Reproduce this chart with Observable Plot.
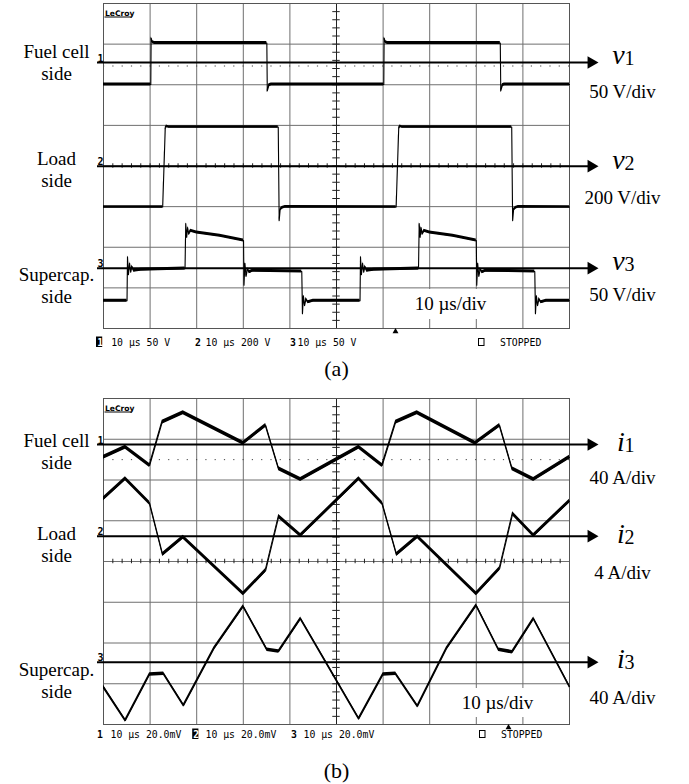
<!DOCTYPE html>
<html>
<head>
<meta charset="utf-8">
<script src="https://cdn.jsdelivr.net/npm/d3@7"></script>
<script src="https://cdn.jsdelivr.net/npm/@observablehq/plot@0.6"></script>
<style>
  html, body { margin: 0; padding: 0; background: #fff; }
  #figure { width: 689px; }
  #figure svg { display: block; }
</style>
</head>
<body>
<div id="figure"></div>
<script>
// ---- recorded waveforms: [time (µs), value] ----
// (a) voltages (V)
const v1Trace = [
  [0, -27], [10.15, -27], [10.22, 30], [10.5, 25], [11, 24], [35.05, 24], [35.15, -35], [35.5, -28], [36, -27],
  [60.15, -27], [60.22, 30], [60.5, 25], [61, 24], [85.15, 24], [85.25, -35], [85.6, -28], [86, -27], [100, -27]
];
const v2Trace = [
  [0, -201], [12.7, -201], [13.25, 185], [13.5, 197], [14, 193], [37.5, 193], [37.7, -268], [37.9, -215], [38.3, -205], [39, -200],
  [62.8, -201], [63.35, 185], [63.6, 197], [64.1, 193], [87.6, 193], [87.8, -268], [88, -215], [88.4, -205], [89, -200], [100, -201]
];
const v3Trace = [
  [0, -40], [5.05, -40], [5.15, 14], [5.35, -8], [5.6, 6], [5.85, -5], [6.1, 2], [6.5, -3], [8, -2], [17.5, -0.5],
  [17.65, 55], [17.85, 38], [18.05, 50], [18.3, 42], [18.7, 46], [20, 44], [25, 40], [30.05, 34],
  [30.15, -21], [30.35, 6], [30.6, -10], [30.9, -1], [31.3, -5], [32, -3], [42.55, -4],
  [42.7, -56], [42.9, -34], [43.15, -46], [43.45, -38], [43.9, -42], [45, -40], [55.05, -40],
  [55.15, 14], [55.35, -8], [55.6, 6], [55.85, -5], [56.1, 2], [56.5, -3], [58, -2], [67.6, -0.5],
  [67.75, 55], [67.95, 38], [68.15, 50], [68.4, 42], [68.8, 46], [70, 44], [75, 40], [80.0, 34],
  [80.1, -21], [80.3, 6], [80.55, -10], [80.85, -1], [81.25, -5], [82, -3], [92.55, -4],
  [92.7, -56], [92.9, -34], [93.15, -46], [93.45, -38], [93.9, -42], [95, -40], [100, -40]
];
// (b) currents (A)
const i1Trace = [
  [0, -12.5], [4.7, -2.6], [9.9, -20.6], [12.6, 21.9], [17.1, 31.1], [30.0, 1.3], [34.8, 18.7], [37.6, -23.9], [42.3, -34.4],
  [54.8, -2.6], [59.8, -20.6], [62.7, 21.9], [67.3, 31.1], [79.8, 1.3], [85.0, 18.7], [87.7, -23.9], [92.3, -34.4], [100, -12.5]
];
const i2Trace = [
  [0, 3.67], [4.7, 5.63], [9.9, 3.24], [12.7, -1.8], [17.1, -0.1], [30.0, -5.65], [34.8, -3.37], [37.6, 1.93], [42.3, 0.07],
  [54.8, 5.63], [59.8, 3.24], [62.9, -1.8], [67.4, -0.05], [80.0, -5.65], [85.0, -3.2], [87.8, 2.2], [92.3, 0.07], [100, 3.44]
];
const i3Trace = [
  [0, -24.5], [4.7, -57.2], [9.9, -12.1], [12.9, -11.4], [17.2, -42.5], [23.7, 13.2], [30.0, 54.7], [35.1, 12.2], [37.6, 10.5], [42.3, 42.6],
  [54.8, -55.5], [60.0, -12.1], [62.7, -11.4], [67.4, -43.2], [73.6, 13.2], [80.0, 55.7], [84.8, 12.2], [87.7, 9.8], [92.3, 42.6], [100, -23.9]
];

// ---- text ----
const sideLabels = ["Fuel cell\nside", "Load\nside", "Supercap.\nside"];
const channelNumbers = ["1", "2", "3"];
const voltScales = ["50 V/div", "200 V/div", "50 V/div"];
const currentScales = ["40 A/div", "4 A/div", "40 A/div"];
const timeBase = "10 µs/div";
const statusA = ["10 µs 50 V", "10 µs 200 V", "10 µs 50 V"];
const statusB = ["10 µs 20.0mV", "10 µs 20.0mV", "10 µs 20.0mV"];
const panelNames = ["(a)", "(b)"];
const brand = "LeCroy";
const stoppedText = "STOPPED";

// graticule: 10 × 8 divisions, 10 µs per division
const timeTicks = d3.range(0, 101, 10);
const divTicks = d3.range(-4, 5);
const fineTime = d3.range(0, 51).map(k => k * 2);
const fineDiv = d3.range(-20, 21).map(k => k / 5);

const WIDTH = 689, HEIGHT = 392;
const GRID_L = 103, GRID_R = 569;
const T = px => (px - GRID_L) * 100 / (GRID_R - GRID_L);   // page column -> µs

const serif = "'Liberation Serif','Times New Roman',Times,serif";
const mono = "'DejaVu Sans Mono','Liberation Mono',monospace";
const sans = "'DejaVu Sans','Liberation Sans',sans-serif";

function scope(p) {
  const {origin, top, bottom} = p;
  const pxPerDiv = (bottom - top) / 8;
  const D = py => 4 - (py - top) / pxPerDiv;               // page row -> divisions
  const marks = [];

  // graticule
  marks.push(Plot.ruleX(timeTicks, {stroke: "#6f6f6f", strokeWidth: 1}));
  marks.push(Plot.ruleY(divTicks, {stroke: "#6f6f6f", strokeWidth: 1}));
  marks.push(Plot.ruleY([p.dotted], {stroke: "#444", strokeWidth: 1, strokeDasharray: "1.2,8.1"}));
  marks.push(Plot.ruleX([50], {stroke: "#222", strokeWidth: 1}));
  marks.push(Plot.ruleY(fineDiv, {x1: 49.2, x2: 50.8, stroke: "#222", strokeWidth: 1}));
  marks.push(Plot.ruleX(fineTime, {y1: -0.055, y2: 0.055, stroke: "#222", strokeWidth: 1}));
  marks.push(Plot.frame({stroke: "#555", strokeWidth: 1}));

  // label box for the time base
  marks.push(Plot.rect([0], {x1: T(p.boxX[0]), x2: T(p.boxX[1]), y1: D(p.boxY[0]), y2: D(p.boxY[1]), fill: "white"}));

  p.channels.forEach((c, i) => {
    const base = D(c.marker);
    const y = d => base + d[1] / c.perDiv;
    const hb = c.band / pxPerDiv;
    // ground marker with arrow
    marks.push(Plot.ruleY([base], {x1: T(97), x2: T(591), stroke: "black", strokeWidth: 2}));
    marks.push(Plot.dot([0], {x: T(590.7), y: base, symbol: "triangle", r: 4.7, rotate: 90, fill: "black", stroke: "none"}));
    // waveform: noise band plus thin core line
    marks.push(Plot.areaY(c.data, {x: d => d[0], y1: d => y(d) - hb, y2: d => y(d) + hb, fill: "black"}));
    marks.push(Plot.line(c.data, {x: d => d[0], y, stroke: "black", strokeWidth: 1.1}));
    // channel number on the left edge
    marks.push(Plot.text([channelNumbers[i]], {text: d => d, x: T(100), y: base, dy: -1, lineAnchor: "bottom",
      fontFamily: mono, fontWeight: "bold", fontSize: 10}));
    // side name
    marks.push(Plot.text([sideLabels[i]], {text: d => d, x: T(56), y: D(c.sideY), lineAnchor: "middle",
      fontFamily: serif, fontSize: 19, lineHeight: 1.16}));
    // quantity symbol with subscript
    marks.push(Plot.text([p.symbol], {text: d => d, x: T(c.symX), y: base, dy: c.symDy, lineAnchor: "bottom",
      fontFamily: serif, fontStyle: "italic", fontSize: 28}));
    marks.push(Plot.text([channelNumbers[i]], {text: d => d, x: T(629), y: base, dy: c.symDy + 1, lineAnchor: "bottom",
      fontFamily: serif, fontSize: 20}));
    // scale
    marks.push(Plot.text([p.scales[i]], {text: d => d, x: T(622), y: D(c.scaleY), lineAnchor: "middle",
      fontFamily: serif, fontSize: 19}));
  });

  // time base
  marks.push(Plot.text([timeBase], {text: d => d, x: T(p.timeX), y: D(p.timeY), lineAnchor: "middle",
    fontFamily: serif, fontSize: 19}));

  // brand
  marks.push(Plot.text([brand], {text: d => d, x: T(104.5), y: D(top + 12), textAnchor: "start", lineAnchor: "bottom",
    fontFamily: sans, fontWeight: "bold", fontSize: 7.6}));
  marks.push(Plot.ruleY([D(top + 13.5)], {x1: T(104.5), x2: T(132), stroke: "black", strokeWidth: 1}));

  // status line
  const sy = D(p.statusY);
  marks.push(Plot.rect([0], {x1: T(p.boxedX), x2: T(p.boxedX + 6.2), y1: D(p.statusY - 5.5), y2: D(p.statusY + 5), fill: "black"}));
  p.status.forEach((s, i) => {
    const boxed = i === p.boxedIndex;
    marks.push(Plot.text([channelNumbers[i]], {text: d => d, x: T(p.numX[i]), y: sy, textAnchor: "start", lineAnchor: "middle",
      fontFamily: mono, fontWeight: "bold", fontSize: 9.8, fill: boxed ? "white" : "black"}));
    marks.push(Plot.text([s], {text: d => d, x: T(p.textX[i]), y: sy, textAnchor: "start", lineAnchor: "middle",
      fontFamily: mono, fontSize: 9.8}));
  });
  marks.push(Plot.rect([0], {x1: T(p.squareX), x2: T(p.squareX + 5.5), y1: D(p.statusY - 3.5), y2: D(p.statusY + 3.5),
    fill: "none", stroke: "black", strokeWidth: 1}));
  marks.push(Plot.text([stoppedText], {text: d => d, x: T(p.squareX + 21), y: sy, textAnchor: "start", lineAnchor: "middle",
    fontFamily: mono, fontSize: 9.8}));
  marks.push(Plot.dot([0], {x: T(p.triX), y: D(bottom + 3), symbol: "triangle", r: 2.2, fill: "black", stroke: "none"}));

  // panel name
  marks.push(Plot.text([p.name], {text: d => d, x: T(336), y: D(p.nameY), lineAnchor: "middle",
    fontFamily: serif, fontSize: 22}));

  return Plot.plot({
    width: WIDTH, height: HEIGHT,
    marginLeft: GRID_L, marginRight: WIDTH - GRID_R,
    marginTop: top - origin, marginBottom: origin + HEIGHT - bottom,
    x: {domain: [0, 100], axis: null},
    y: {domain: [-4, 4], axis: null},
    style: {background: "white", overflow: "visible", color: "black"},
    marks
  });
}

const panelA = scope({
  origin: 0, top: 3, bottom: 328, symbol: "v", scales: voltScales, name: panelNames[0], nameY: 368,
  dotted: 4 - (65.5 - 3) / 40.625,
  channels: [
    {data: v1Trace, perDiv: 50, marker: 62, band: 1.5, sideY: 61.5, scaleY: 91, symX: 618, symDy: 1},
    {data: v2Trace, perDiv: 200, marker: 165.7, band: 1.3, sideY: 168.7, scaleY: 197, symX: 618, symDy: 3},
    {data: v3Trace, perDiv: 50, marker: 267.7, band: 1.5, sideY: 284, scaleY: 294, symX: 618, symDy: 2}
  ],
  timeX: 450, timeY: 303, boxX: [408, 492], boxY: [289, 319],
  status: statusA, statusY: 342, boxedIndex: 0, boxedX: 96,
  numX: [96.8, 194.5, 289.5], textX: [110.7, 205, 297],
  squareX: 478.5, triX: 395
});

const panelB = scope({
  origin: 392, top: 398, bottom: 724, symbol: "i", scales: currentScales, name: panelNames[1], nameY: 770,
  dotted: 2.5,
  channels: [
    {data: i1Trace, perDiv: 40, marker: 444, band: 2, sideY: 450.5, scaleY: 477, symX: 620.5, symDy: 6},
    {data: i2Trace, perDiv: 4, marker: 535.7, band: 2, sideY: 543.5, scaleY: 572, symX: 620.5, symDy: 7},
    {data: i3Trace, perDiv: 40, marker: 661.7, band: 1.8, sideY: 679.5, scaleY: 697, symX: 620.5, symDy: 6}
  ],
  timeX: 497, timeY: 702, boxX: [456, 540], boxY: [688, 717],
  status: statusB, statusY: 734, boxedIndex: 1, boxedX: 192.2,
  numX: [96.5, 192.8, 290.5], textX: [110, 205, 303],
  squareX: 479.5, triX: 508
});

document.getElementById("figure").append(panelA, panelB);
</script>
</body>
</html>
